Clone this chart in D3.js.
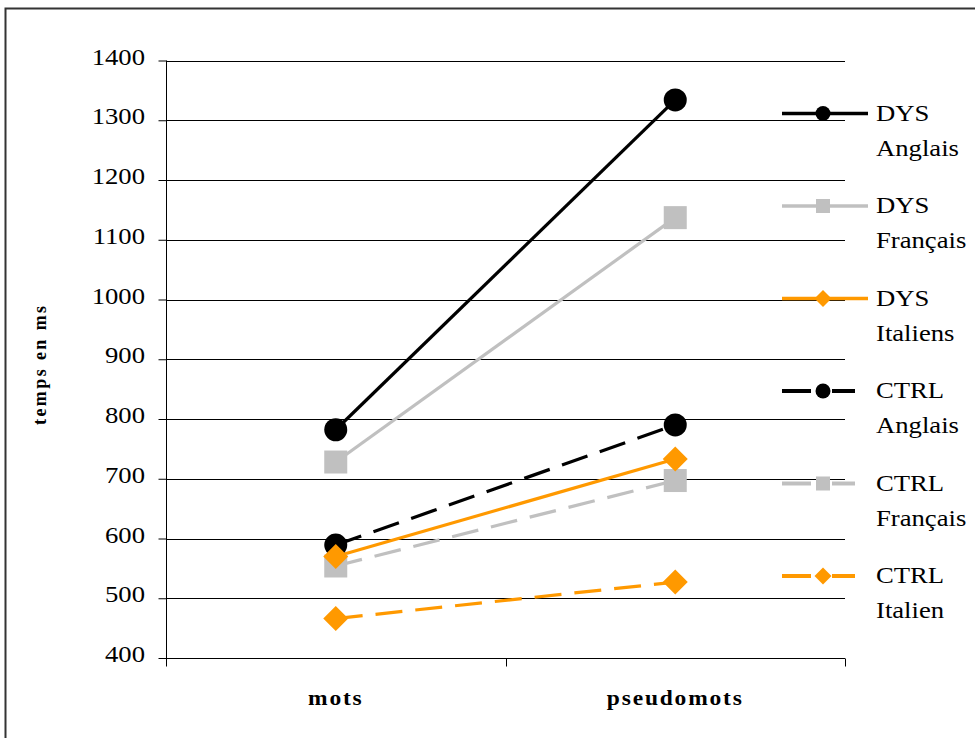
<!DOCTYPE html>
<html><head><meta charset="utf-8">
<script src="https://cdn.jsdelivr.net/npm/d3@7"></script>
<style>body{margin:0;background:#fff}</style>
</head><body>
<svg id="c" width="975" height="738"></svg>
<script>
const categories = ["mots", "pseudomots"];
const seriesNames = ["DYS Anglais", "DYS Français", "DYS Italiens", "CTRL Anglais", "CTRL Français", "CTRL Italien"];
const dysAnglais = [782, 1334];
const dysFrancais = [728, 1137];
const dysItaliens = [570, 733];
const ctrlAnglais = [589, 790];
const ctrlFrancais = [554, 697];
const ctrlItalien = [466, 527];
const yTicks = [400, 500, 600, 700, 800, 900, 1000, 1100, 1200, 1300, 1400];

const series = [
  {name: seriesNames[0], l1: "DYS", l2: "Anglais", values: dysAnglais, color: "#000000", marker: "circle", dash: null},
  {name: seriesNames[1], l1: "DYS", l2: "Français", values: dysFrancais, color: "#C0C0C0", marker: "square", dash: null},
  {name: seriesNames[2], l1: "DYS", l2: "Italiens", values: dysItaliens, color: "#FF9900", marker: "diamond", dash: null},
  {name: seriesNames[3], l1: "CTRL", l2: "Anglais", values: ctrlAnglais, color: "#000000", marker: "circle", dash: "27,13"},
  {name: seriesNames[4], l1: "CTRL", l2: "Français", values: ctrlFrancais, color: "#C0C0C0", marker: "square", dash: "27,13"},
  {name: seriesNames[5], l1: "CTRL", l2: "Italien", values: ctrlItalien, color: "#FF9900", marker: "diamond", dash: "27,13"}
];

const svg = d3.select("#c");
const font = "Liberation Serif, Times New Roman, serif";
const SX = 1.16;

// outer frame
svg.append("rect").attr("x", 5.5).attr("y", 8.5).attr("width", 1000).attr("height", 760)
  .attr("fill", "none").attr("stroke", "#333").attr("stroke-width", 2);

const x0 = 166, x1 = 845, yTop = 60.5, yBot = 658;
const x = d3.scaleBand().domain(categories).range([x0, x1]);
const y = d3.scaleLinear().domain([400, 1400]).range([yBot, yTop]);

function sText(parent, tx, ty, str, opts) {
  const g = parent.append("g").attr("transform", `translate(${tx},${ty}) scale(${opts.sx || SX},1)`);
  return g.append("text").attr("x", 0).attr("y", 0)
    .attr("font-family", font).attr("font-size", opts.size)
    .attr("font-weight", opts.bold ? "bold" : "normal")
    .attr("letter-spacing", opts.ls || 0)
    .attr("text-anchor", opts.anchor || "start").attr("fill", "#000").text(str);
}

// gridlines
svg.append("g").selectAll("line").data(yTicks).join("line")
  .attr("x1", x0).attr("x2", x1)
  .attr("y1", d => Math.round(y(d)) + 0.5).attr("y2", d => Math.round(y(d)) + 0.5)
  .attr("stroke", "#000").attr("stroke-width", 1);

// y axis
const yAxis = svg.append("g").attr("transform", `translate(${x0 + 0.5},0)`)
  .call(d3.axisLeft(y).tickValues(yTicks).tickSize(8).tickFormat(d3.format("d")));
yAxis.select(".domain").attr("d", `M0,${yTop}V${yBot + 8}`).attr("stroke", "#000");
yAxis.selectAll(".tick line").attr("stroke", "#000");
yAxis.selectAll(".tick text").remove();
yTicks.forEach(t => {
  sText(svg, 145, y(t) + 4, String(t), {size: 23, anchor: "end"});
});

// x axis
const xAxisG = svg.append("g").attr("transform", `translate(0,${Math.round(yBot) + 0.5})`);
xAxisG.append("line").attr("x1", x0).attr("x2", x1).attr("stroke", "#000");
const bounds = [x0, x0 + x.bandwidth(), x1];
xAxisG.selectAll(".tk").data(bounds).join("line").attr("class", "tk")
  .attr("x1", d => Math.round(d) + 0.5).attr("x2", d => Math.round(d) + 0.5)
  .attr("y1", 0).attr("y2", 8).attr("stroke", "#000");
categories.forEach(c => {
  sText(svg, x(c) + x.bandwidth() / 2, 705, c, {size: 21, bold: true, ls: 1.6, anchor: "middle", sx: 1.12});
});

// y title
svg.append("text").attr("transform", `translate(46,${(yTop + yBot) / 2 + 5}) rotate(-90)`)
  .attr("text-anchor", "middle").attr("font-family", font).attr("font-weight", "bold")
  .attr("font-size", 18).attr("letter-spacing", 2.4).text("temps en ms");

const cx = c => x(c) + x.bandwidth() / 2;

function marker(g, type, color, px, py) {
  if (type === "circle") {
    g.append("circle").attr("cx", px).attr("cy", py).attr("r", 11.5).attr("fill", color);
  } else if (type === "square") {
    g.append("rect").attr("x", px - 11.5).attr("y", py - 11.5).attr("width", 23).attr("height", 23).attr("fill", color);
  } else {
    const s = 12.5;
    g.append("path").attr("d", `M${px},${py - s}L${px + s},${py}L${px},${py + s}L${px - s},${py}Z`).attr("fill", color);
  }
}

const line = d3.line().x((d, i) => cx(categories[i])).y(d => y(d));

const drawOrder = [5, 4, 3, 2, 1, 0];
const plot = svg.append("g");
drawOrder.forEach(i => {
  const s = series[i];
  plot.append("path").attr("d", line(s.values)).attr("fill", "none")
    .attr("stroke", s.color).attr("stroke-width", 3.2)
    .attr("stroke-dasharray", s.dash);
});
drawOrder.forEach(i => {
  const s = series[i];
  s.values.forEach((v, j) => marker(plot, s.marker, s.color, cx(categories[j]), y(v)));
});

// legend
const legY0 = 113.5, legStep = 92.5;
series.forEach((s, i) => {
  const g = svg.append("g");
  const ly = legY0 + i * legStep;
  if (s.dash) {
    g.append("line").attr("x1", 782).attr("x2", 811).attr("y1", ly).attr("y2", ly)
      .attr("stroke", s.color).attr("stroke-width", 4);
    g.append("line").attr("x1", 832).attr("x2", 855).attr("y1", ly).attr("y2", ly)
      .attr("stroke", s.color).attr("stroke-width", 4);
  } else {
    g.append("line").attr("x1", 782).attr("x2", 868).attr("y1", ly).attr("y2", ly)
      .attr("stroke", s.color).attr("stroke-width", 3.5);
  }
  if (s.marker === "circle") g.append("circle").attr("cx", 823).attr("cy", ly).attr("r", 7.5).attr("fill", s.color);
  else if (s.marker === "square") g.append("rect").attr("x", 816).attr("y", ly - 7).attr("width", 14).attr("height", 14).attr("fill", s.color);
  else g.append("path").attr("d", `M823,${ly - 8.5}L831.5,${ly}L823,${ly + 8.5}L814.5,${ly}Z`).attr("fill", s.color);
  sText(g, 876, ly + 7, s.l1, {size: 23});
  sText(g, 876, ly + 42, s.l2, {size: 23});
});
</script>
</body></html>
